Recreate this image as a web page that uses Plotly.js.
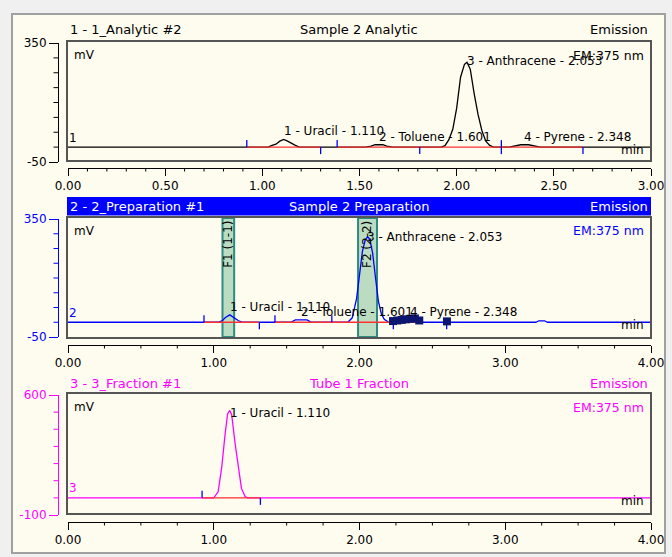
<!DOCTYPE html>
<html><head><meta charset="utf-8">
<script src="https://cdn.plot.ly/plotly-3.0.1.min.js"></script>
<style>html,body{margin:0;padding:0;background:#f0f0f0;overflow:hidden;} #chart{width:672px;height:557px;}</style>
</head><body><div id="chart"></div>
<script>
// ================= DATA =================
// Panel 1 : 1 - 1_Analytic #2 (Sample 2 Analytic)
const analyticTime = [0.00, 1.03, 1.05, 1.07, 1.09, 1.11, 1.13, 1.15, 1.17, 1.19, 1.53, 1.56, 1.58, 1.62, 1.64, 1.67, 1.92, 1.94, 1.96, 1.98, 2.00, 2.02, 2.04, 2.053, 2.07, 2.09, 2.11, 2.13, 2.15, 2.17, 2.19, 2.27, 2.30, 2.33, 2.37, 2.40, 2.43, 3.00];
const analyticMV   = [0, 0, 6, 10, 20, 26, 20, 12, 6, 0, 0, 3, 8, 8, 3, 0, 0, 5, 25, 60, 131, 235, 278, 285, 262, 180, 110, 55, 20, 6, 0, 0, 3, 8, 8, 3, 0, 0];
const analyticBaseStart = [0.92, 1.385];
const analyticBaseEnd   = [1.30, 2.65];
const analyticDelimUp   = [0.92, 1.385, 2.23];
const analyticDelimDown = [1.30, 1.81, 2.23, 2.65];
const analyticPeakNames = ["1 - Uracil - 1.110", "2 - Toluene - 1.601", "3 - Anthracene - 2.053", "4 - Pyrene - 2.348"];
const analyticPeakTimes = [1.11, 1.60, 2.053, 2.348];
const analyticPeakMV    = [26, 8, 285, 8];
const analyticXTickVals = [0, 0.5, 1, 1.5, 2, 2.5, 3];
const analyticXTickText = ["0.00", "0.50", "1.00", "1.50", "2.00", "2.50", "3.00"];
const analyticXMinorVals = [0.1, 0.2, 0.3, 0.4, 0.6, 0.7, 0.8, 0.9, 1.1, 1.2, 1.3, 1.4, 1.6, 1.7, 1.8, 1.9, 2.1, 2.2, 2.3, 2.4, 2.6, 2.7, 2.8, 2.9];
const analyticYTickVals = [-50, 350];
const analyticYTickText = ["-50", "350"];
const analyticYMinorVals = [0, 50, 100, 150, 200, 250, 300];

// Panel 2 : 2 - 2_Preparation #1 (Sample 2 Preparation)
const prepTime = [0.00, 1.03, 1.06, 1.08, 1.11, 1.14, 1.17, 1.20, 1.53, 1.56, 1.64, 1.67, 1.92, 1.95, 1.98, 2.00, 2.02, 2.04, 2.056, 2.07, 2.09, 2.11, 2.13, 2.15, 2.17, 2.20, 3.21, 3.23, 3.27, 3.29, 4.00];
const prepMV   = [0, 0, 6, 16, 25, 16, 5, 0, 0, 8, 8, 0, 0, 15, 80, 160, 240, 280, 290, 282, 235, 150, 70, 28, 10, 0, 0, 5, 5, 0, 0];
const prepBaseStart = [0.933, 1.42];
const prepBaseEnd   = [1.313, 2.40];
const prepDelimUp   = [0.933, 1.42, 1.81];
const prepDelimDown = [1.313, 2.232, 2.598];
const prepMarkTime = [2.23, 2.26, 2.29, 2.32, 2.35, 2.38, 2.41, 2.60];
const prepMarkMV   = [4, 6, 8, 10, 12, 13, 6, 3];
const prepPeakNames = ["1 - Uracil - 1.110", "2 - Toluene - 1.601", "3 - Anthracene - 2.053", "4 - Pyrene - 2.348"];
const prepPeakTimes = [1.11, 1.60, 2.053, 2.348];
const prepPeakMV    = [25, 8, 290, 8];
const fractionStart = [1.06, 1.99];
const fractionEnd   = [1.14, 2.12];
const fractionNames = ["F1 (1-1)", "F2 (2-2)"];
const fourMinXTickVals = [0, 1, 2, 3, 4];
const fourMinXTickText = ["0.00", "1.00", "2.00", "3.00", "4.00"];
const fourMinXMinorVals = [0.25, 0.5, 0.75, 1.25, 1.5, 1.75, 2.25, 2.5, 2.75, 3.25, 3.5, 3.75];
const prepYTickVals = [-50, 350];
const prepYTickText = ["-50", "350"];
const prepYMinorVals = [0, 50, 100, 150, 200, 250, 300];

// Panel 3 : 3 - 3_Fraction #1 (Tube 1 Fraction)
const fracTime = [0.00, 1.00, 1.03, 1.055, 1.077, 1.095, 1.11, 1.123, 1.146, 1.168, 1.19, 1.215, 1.23, 4.00];
const fracMV   = [0, 0, 35, 180, 365, 490, 510, 485, 320, 175, 55, 8, 0, 0];
const fracBaseStart = [0.92];
const fracBaseEnd   = [1.32];
const fracDelimUp   = [0.92];
const fracDelimDown = [1.32];
const fracPeakNames = ["1 - Uracil - 1.110"];
const fracPeakTimes = [1.11];
const fracPeakMV    = [510];
const fracYTickVals = [-100, 600];
const fracYTickText = ["-100", "600"];
const fracYMinorVals = [0, 100, 200, 300, 400, 500];

// ================= LAYOUT / STYLE =================
const W = 672, H = 557;
const FONT = 'DejaVu Sans, Verdana, sans-serif';
const px = v => v / W;
const py = v => 1 - v / H;
const RED = '#ff3030', BLUE = '#0000ff', MAG = '#ff00ff', NAVY = '#0c1670';
const X0 = 68, X1 = 651;   // x-axis domain in pixels

const panels = [
  {xa:'x', ya:'y', xr:[0,3], yr:[-50,350], yTop:43, yBot:162, boxTop:41, boxBot:161, axisY:168, titleY:30,
   color:'#000000', curve:'#000000', xmv:analyticXMinorVals, ymv:analyticYMinorVals,
   xtv:analyticXTickVals, xtt:analyticXTickText, ytv:analyticYTickVals, ytt:analyticYTickText,
   t:analyticTime, v:analyticMV, bs:analyticBaseStart, be:analyticBaseEnd, du:analyticDelimUp, dd:analyticDelimDown,
   pn:analyticPeakNames, pt:analyticPeakTimes, pv:analyticPeakMV,
   titles:["1 - 1_Analytic #2", "Sample 2 Analytic", "Emission"], titleColor:'#000000', num:"1", emColor:'#000000'},
  {xa:'x2', ya:'y2', xr:[0,4], yr:[-50,350], yTop:219, yBot:337, boxTop:217, boxBot:338, axisY:345, titleY:206.5,
   color:BLUE, curve:BLUE, xmv:fourMinXMinorVals, ymv:prepYMinorVals,
   xtv:fourMinXTickVals, xtt:fourMinXTickText, ytv:prepYTickVals, ytt:prepYTickText,
   t:prepTime, v:prepMV, bs:prepBaseStart, be:prepBaseEnd, du:prepDelimUp, dd:prepDelimDown,
   pn:prepPeakNames, pt:prepPeakTimes, pv:prepPeakMV,
   titles:["2 - 2_Preparation #1", "Sample 2 Preparation", "Emission"], titleColor:'#ffffff', num:"2", emColor:BLUE},
  {xa:'x3', ya:'y3', xr:[0,4], yr:[-100,600], yTop:395, yBot:515, boxTop:393, boxBot:514, axisY:522, titleY:383,
   color:MAG, curve:MAG, xmv:fourMinXMinorVals, ymv:fracYMinorVals,
   xtv:fourMinXTickVals, xtt:fourMinXTickText, ytv:fracYTickVals, ytt:fracYTickText,
   t:fracTime, v:fracMV, bs:fracBaseStart, be:fracBaseEnd, du:fracDelimUp, dd:fracDelimDown,
   pn:fracPeakNames, pt:fracPeakTimes, pv:fracPeakMV,
   titles:["3 - 3_Fraction #1", "Tube 1 Fraction", "Emission"], titleColor:MAG, num:"3", emColor:MAG}
];

const yPix = (p, v) => p.yTop + (p.yr[1] - v) / (p.yr[1] - p.yr[0]) * (p.yBot - p.yTop);
const xPix = (p, t) => X0 + (t - p.xr[0]) / (p.xr[1] - p.xr[0]) * (X1 - X0);
const mvPerPx = p => (p.yr[1] - p.yr[0]) / (p.yBot - p.yTop);

const traces = [];
const shapes = [];
const annotations = [];
const layout = {
  width: W, height: H, margin:{l:0,r:0,t:0,b:0},
  paper_bgcolor:'#f0f0f0', plot_bgcolor:'rgba(0,0,0,0)',
  showlegend:false, font:{family:FONT, size:12, color:'#000'},
  shapes, annotations
};

// window background
shapes.push({type:'rect', xref:'paper', yref:'paper', x0:px(12), x1:px(665), y0:py(553), y1:py(14),
  fillcolor:'#fefbef', line:{color:'#a0a0a0', width:2}, layer:'below'});
// blue title bar of panel 2
shapes.push({type:'rect', xref:'paper', yref:'paper', x0:px(67), x1:px(651), y0:py(215.5), y1:py(197),
  fillcolor:BLUE, line:{width:0}, layer:'below'});

function ann(text, x, y, color, xanchor, size, extra) {
  return Object.assign({xref:'paper', yref:'paper', x:px(x), y:py(y), text:text, showarrow:false,
    xanchor:xanchor, yanchor:'middle', font:{family:FONT, size:size||12, color:color}}, extra||{});
}

panels.forEach((p, i) => {
  const sfx = i === 0 ? '' : String(i+1);
  layout['xaxis'+sfx] = {
    domain:[px(X0), px(X1)], range:p.xr, anchor:'free', position:py(p.axisY),
    showline:true, linecolor:'#000', linewidth:1, ticks:'outside', ticklen:7, tickcolor:'#000', tickwidth:1,
    tickmode:'array', tickvals:p.xtv, ticktext:p.xtt, tickfont:{family:FONT, size:12, color:'#000'},
    showgrid:false, zeroline:false, fixedrange:true
  };
  layout['yaxis'+sfx] = {
    domain:[py(p.yBot), py(p.yTop)], range:p.yr, anchor:'free', position:px(58),
    showline:true, linecolor:p.color, linewidth:1, ticks:'outside', ticklen:9, tickcolor:p.color, tickwidth:1,
    tickmode:'array', tickvals:p.ytv, ticktext:p.ytt, tickfont:{family:FONT, size:12, color:p.color},
    showgrid:false, zeroline:false, fixedrange:true
  };
  // minor ticks (outside the plot area, so drawn in paper space)
  p.xmv.forEach(t => shapes.push({type:'line', xref:'paper', yref:'paper', x0:px(xPix(p, t)), x1:px(xPix(p, t)),
    y0:py(p.axisY), y1:py(p.axisY + 3.5), line:{color:'#000', width:1}, layer:'above'}));
  p.ymv.forEach(v => shapes.push({type:'line', xref:'paper', yref:'paper', x0:px(58), x1:px(53.5),
    y0:py(yPix(p, v)), y1:py(yPix(p, v)), line:{color:p.color, width:1}, layer:'above'}));

  // chromatogram
  traces.push({x:p.t, y:p.v, xaxis:p.xa, yaxis:p.ya, mode:'lines', line:{color:p.curve, width:1.3}, hoverinfo:'skip'});
  // integration baselines
  const bx = [], by = [];
  p.bs.forEach((s, k) => { bx.push(s, p.be[k], null); by.push(0, 0, null); });
  traces.push({x:bx, y:by, xaxis:p.xa, yaxis:p.ya, mode:'lines', line:{color:RED, width:1.4}, hoverinfo:'skip'});
  // peak delimiters
  const L = 7 * mvPerPx(p);
  const dx = [], dy = [];
  p.du.forEach(t => { dx.push(t, t, null); dy.push(0, L, null); });
  p.dd.forEach(t => { dx.push(t, t, null); dy.push(0, -L, null); });
  traces.push({x:dx, y:dy, xaxis:p.xa, yaxis:p.ya, mode:'lines', line:{color:BLUE, width:1.3}, hoverinfo:'skip'});

  // plot box
  shapes.push({type:'rect', xref:'paper', yref:'paper', x0:px(67), x1:px(651), y0:py(p.boxBot), y1:py(p.boxTop),
    line:{color:'#555555', width:2}, layer:'above'});

  // panel header texts
  annotations.push(ann(p.titles[0], 68, p.titleY, p.titleColor, 'left', 13));
  annotations.push(ann(p.titles[1], 359, p.titleY, p.titleColor, 'center', 13));
  annotations.push(ann(p.titles[2], 650, p.titleY, p.titleColor, 'right', 13));
  // inner texts
  annotations.push(ann('mV', 72, p.boxTop + 14, '#000', 'left', 12));
  annotations.push(ann('EM:375 nm', 646, p.boxTop + 14, p.emColor, 'right', 12.5));
  annotations.push(ann(p.num, 67, yPix(p, 0) - 9.5, p.color, 'left', 12));
  annotations.push(ann('min', 646, yPix(p, 0) + 3, '#000', 'right', 12));

  // peak labels
  p.pn.forEach((name, k) => {
    const c = Math.max(yPix(p, p.pv[k]) - 8, p.boxTop + 20);
    annotations.push({xref:p.xa, yref:'paper', x:p.pt[k], y:py(c), text:name, showarrow:false,
      xanchor:'left', yanchor:'middle', xshift:-2, font:{family:FONT, size:12, color:'#000'}});
  });
});

// fraction bands on panel 2
const P2 = panels[1];
fractionStart.forEach((s, k) => {
  shapes.push({type:'rect', xref:'x2', yref:'paper', x0:s, x1:fractionEnd[k], y0:py(P2.boxBot - 1), y1:py(P2.boxTop + 1),
    fillcolor:'#bcdcc2', line:{color:'#2e8b82', width:2}, layer:'below'});
  annotations.push({xref:'x2', yref:'paper', x:(s + fractionEnd[k]) / 2, y:py(P2.boxTop + 2), text:fractionNames[k],
    showarrow:false, textangle:-90, xanchor:'center', yanchor:'top', font:{family:FONT, size:12, color:'#000'}});
});
// fraction collection markers
traces.push({x:prepMarkTime, y:prepMarkMV, xaxis:'x2', yaxis:'y2', mode:'markers',
  marker:{symbol:'square', size:8, color:NAVY}, hoverinfo:'skip'});

Plotly.newPlot('chart', traces, layout, {staticPlot:true, displayModeBar:false});
</script>
</body></html>
